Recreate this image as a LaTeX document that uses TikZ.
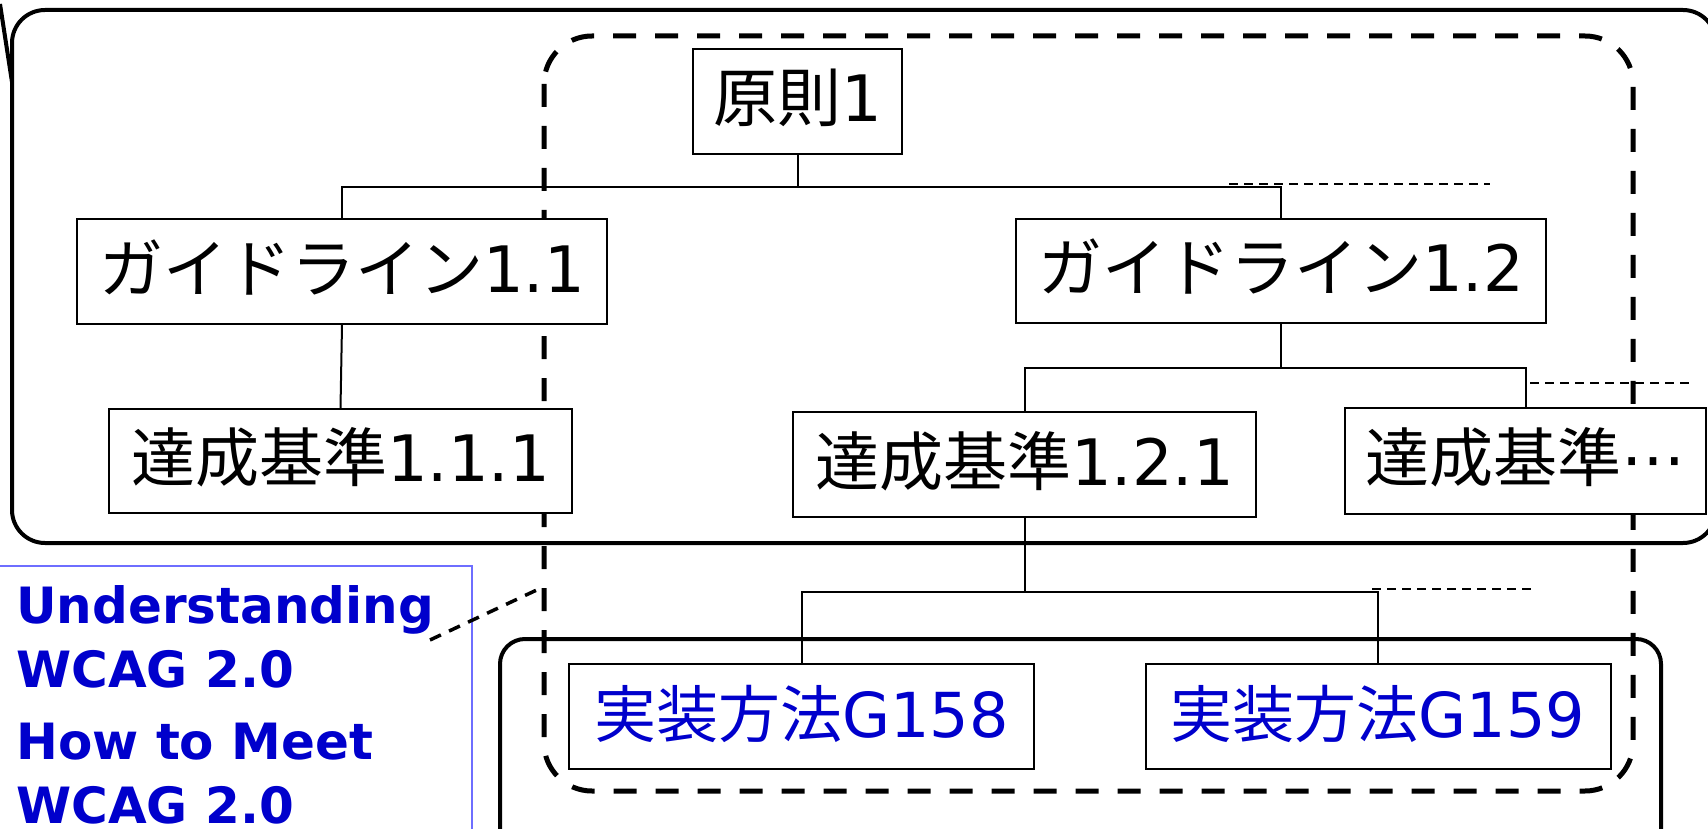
\documentclass[tikz,border=0pt]{standalone}
\usepackage{fontspec}
\newfontfamily\jpf{Noto Sans CJK JP}
\newfontfamily\dvf{DejaVu Sans}
\definecolor{tblue}{RGB}{0,0,204}
\definecolor{bframe}{RGB}{110,110,255}
\newcommand\mixtxt[2]{{\jpf #1}{\dvf #2}}
\begin{document}
\begin{tikzpicture}[x=1pt,y=-1pt,
  box/.style={draw=black, fill=white, line width=2pt, inner sep=0pt,
    text height=50pt, text depth=9pt, font=\fontsize{64}{70}\selectfont},
  bbox/.style={box, text=tblue, font=\fontsize{62}{70}\selectfont},
  tree/.style={line width=2pt},
  thindash/.style={line width=2pt, dash pattern=on 9pt off 6pt},
  bigdash/.style={line width=5pt, dash pattern=on 23pt off 19pt, rounded corners=48pt},
  frame/.style={line width=4pt},
  bluetxt/.style={text=tblue, inner sep=0pt, anchor=base west,
    font=\dvf\bfseries\fontsize{50}{60}\selectfont},
  pointer/.style={line width=3.5pt, dash pattern=on 12pt off 9pt}]
\useasboundingbox (0,0) rectangle (1708,829);

% large frames
\draw[frame, rounded corners=33pt] (12,10) rectangle (1716,543);
\draw[frame] (0,4) -- (12,82);
\draw[bigdash] (544,36) rectangle (1633,791);
\draw[frame, rounded corners=25pt] (500,639) rectangle (1661,860);
\draw[line width=2pt, draw=bframe] (-5,566) rectangle (472,860);

% blue text
\node[bluetxt] (u1) at (16,623) {Understanding};
\node[bluetxt] (u2) at (16,687) {WCAG 2.0};
\node[bluetxt] (h1) at (16,759) {How to Meet};
\node[bluetxt] (h2) at (16,823) {WCAG 2.0};

\coordinate (pa) at (430,640);
\coordinate (pb) at (541,588);
\draw[pointer] (pa) -- (pb);

% boxes
\node[box, minimum width=209pt, minimum height=105pt] (p1) at (797.5,101.5) {\mixtxt{原則}{1}};
\node[box, minimum width=530pt, minimum height=105pt] (g11) at (342,271.5) {\mixtxt{ガイドライン}{1.1}};
\node[box, minimum width=530pt, minimum height=104pt] (g12) at (1281,271) {\mixtxt{ガイドライン}{1.2}};
\node[box, minimum width=463pt, minimum height=104pt] (s111) at (340.5,461) {\mixtxt{達成基準}{1.1.1}};
\node[box, minimum width=463pt, minimum height=105pt] (s121) at (1024.5,464.5) {\mixtxt{達成基準}{1.2.1}};
\node[box, minimum width=361pt, minimum height=106pt] (sx) at (1525.5,461) {\mixtxt{達成基準}{⋯}};
\node[bbox, minimum width=465pt, minimum height=105pt] (t158) at (801.5,716.5) {\mixtxt{実装方法}{G158}};
\node[bbox, minimum width=465pt, minimum height=105pt] (t159) at (1378,716.5) {\mixtxt{実装方法}{G159}};

% tree connectors
\draw[tree] (p1.south) -- ++(0,32) coordinate (j1) -| (g11.north);
\draw[tree] (j1) -| (g12.north);
\draw[tree] (g11.south) -- (s111.north);
\draw[tree] (g12.south) -- ++(0,44) coordinate (j2) -| (s121.north);
\draw[tree] (j2) -| (sx.north);
\draw[tree] (s121.south) -- ++(0,74) coordinate (j3) -| (t158.north);
\draw[tree] (j3) -| (t159.north);

% dashed continuations
\coordinate (d1a) at (1229,184);
\coordinate (d1b) at (1490,184);
\coordinate (d2a) at (1530,383);
\coordinate (d2b) at (1691,383);
\coordinate (d3a) at (1372,589);
\coordinate (d3b) at (1531,589);
\draw[thindash] (d1a) -- (d1b);
\draw[thindash] (d2a) -- (d2b);
\draw[thindash] (d3a) -- (d3b);
\end{tikzpicture}
\end{document}
